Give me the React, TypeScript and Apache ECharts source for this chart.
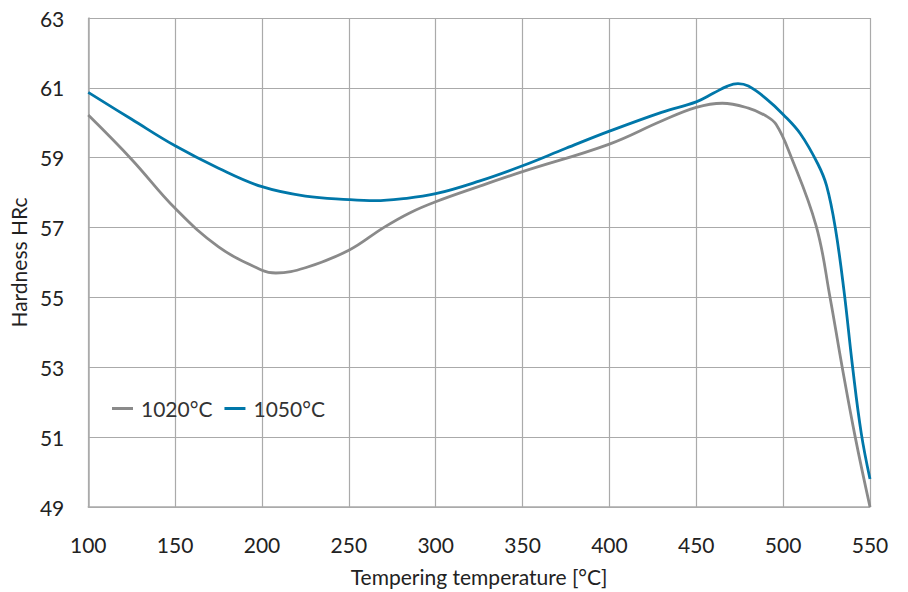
import React, { useEffect, useRef } from "react";
import * as echarts from "echarts";

const temps1020 = [100, 125, 150, 175, 200, 208, 225, 250, 270, 285, 300, 325, 350, 400, 430, 450, 465, 480, 490, 496, 504, 519, 527, 534, 541.5, 550];
const hrc1020 = [60.22, 58.95, 57.55, 56.45, 55.78, 55.7, 55.85, 56.35, 57.0, 57.42, 57.74, 58.18, 58.6, 59.39, 60.05, 60.44, 60.56, 60.42, 60.2, 59.95, 59.1, 57.05, 55.0, 53.0, 51.0, 49.0];

const temps1050 = [100, 125, 150, 175, 200, 225, 250, 265, 280, 300, 325, 350, 375, 400, 430, 450, 460, 468, 474, 480, 490, 500, 510, 520, 525, 530, 535, 540, 545, 550];
const hrc1050 = [60.87, 60.1, 59.34, 58.7, 58.17, 57.9, 57.8, 57.77, 57.82, 57.97, 58.33, 58.77, 59.27, 59.76, 60.3, 60.6, 60.85, 61.05, 61.12, 61.05, 60.7, 60.24, 59.68, 58.82, 58.2, 57.0, 55.2, 53.0, 51.1, 49.8];

const xTicks = [100, 150, 200, 250, 300, 350, 400, 450, 500, 550];
const yTicks = [49, 51, 53, 55, 57, 59, 61, 63];

const seriesNames = ["1020°C", "1050°C"];
const seriesColors = ["#8a8a8a", "#0077a9"];

export default function App() {
  const ref = useRef<HTMLDivElement>(null);
  useEffect(() => {
    if (!ref.current) return;
    const chart = echarts.init(ref.current, undefined, { renderer: "svg" });
    const font = "Lato, 'Noto Sans', sans-serif";
    chart.setOption({
      animation: false,
      backgroundColor: "#ffffff",
      textStyle: { fontFamily: font },
      grid: { left: 86, right: 38, top: 18, bottom: 81, containLabel: false },
      legend: {
        left: 107,
        top: 393,
        itemWidth: 21,
        itemHeight: 3,
        itemGap: 12,
        icon: "rect",
        textStyle: { fontSize: 21, color: "#333", fontFamily: font, padding: [0, 0, 0, 3] },
        data: seriesNames,
      },
      xAxis: {
        type: "value",
        min: xTicks[0],
        max: xTicks[xTicks.length - 1],
        interval: 50,
        name: "Tempering temperature [°C]",
        nameLocation: "middle",
        nameGap: 59,
        nameTextStyle: { fontSize: 21, color: "#222", fontFamily: font },
        axisLine: { show: true, lineStyle: { color: "#aaaaaa", width: 1.5 } },
        axisTick: { show: false },
        axisLabel: { fontSize: 21, color: "#222", margin: 27, fontFamily: font },
        splitLine: { show: true, lineStyle: { color: "#aaaaaa", width: 1.2 } },
      },
      yAxis: {
        type: "value",
        min: yTicks[0],
        max: yTicks[yTicks.length - 1],
        interval: 2,
        name: "Hardness HRc",
        nameLocation: "middle",
        nameGap: 54,
        nameTextStyle: { fontSize: 21, color: "#222", fontFamily: font },
        axisLine: { show: true, lineStyle: { color: "#aaaaaa", width: 1.5 } },
        axisTick: { show: false },
        axisLabel: { fontSize: 21, color: "#222", margin: 24, fontFamily: font },
        splitLine: { show: true, lineStyle: { color: "#aaaaaa", width: 1.2 } },
      },
      series: [
        {
          name: seriesNames[0],
          type: "line",
          data: temps1020.map((t, i) => [t, hrc1020[i]]),
          smooth: 0.4,
          showSymbol: false,
          lineStyle: { color: seriesColors[0], width: 2.8 },
          itemStyle: { color: seriesColors[0] },
        },
        {
          name: seriesNames[1],
          type: "line",
          data: temps1050.map((t, i) => [t, hrc1050[i]]),
          smooth: 0.4,
          showSymbol: false,
          lineStyle: { color: seriesColors[1], width: 2.8 },
          itemStyle: { color: seriesColors[1] },
        },
      ],
    });
    return () => chart.dispose();
  }, []);
  return (
    <div
      ref={ref}
      style={{ position: "absolute", left: 0, top: 0, width: 908, height: 592 }}
    />
  );
}
